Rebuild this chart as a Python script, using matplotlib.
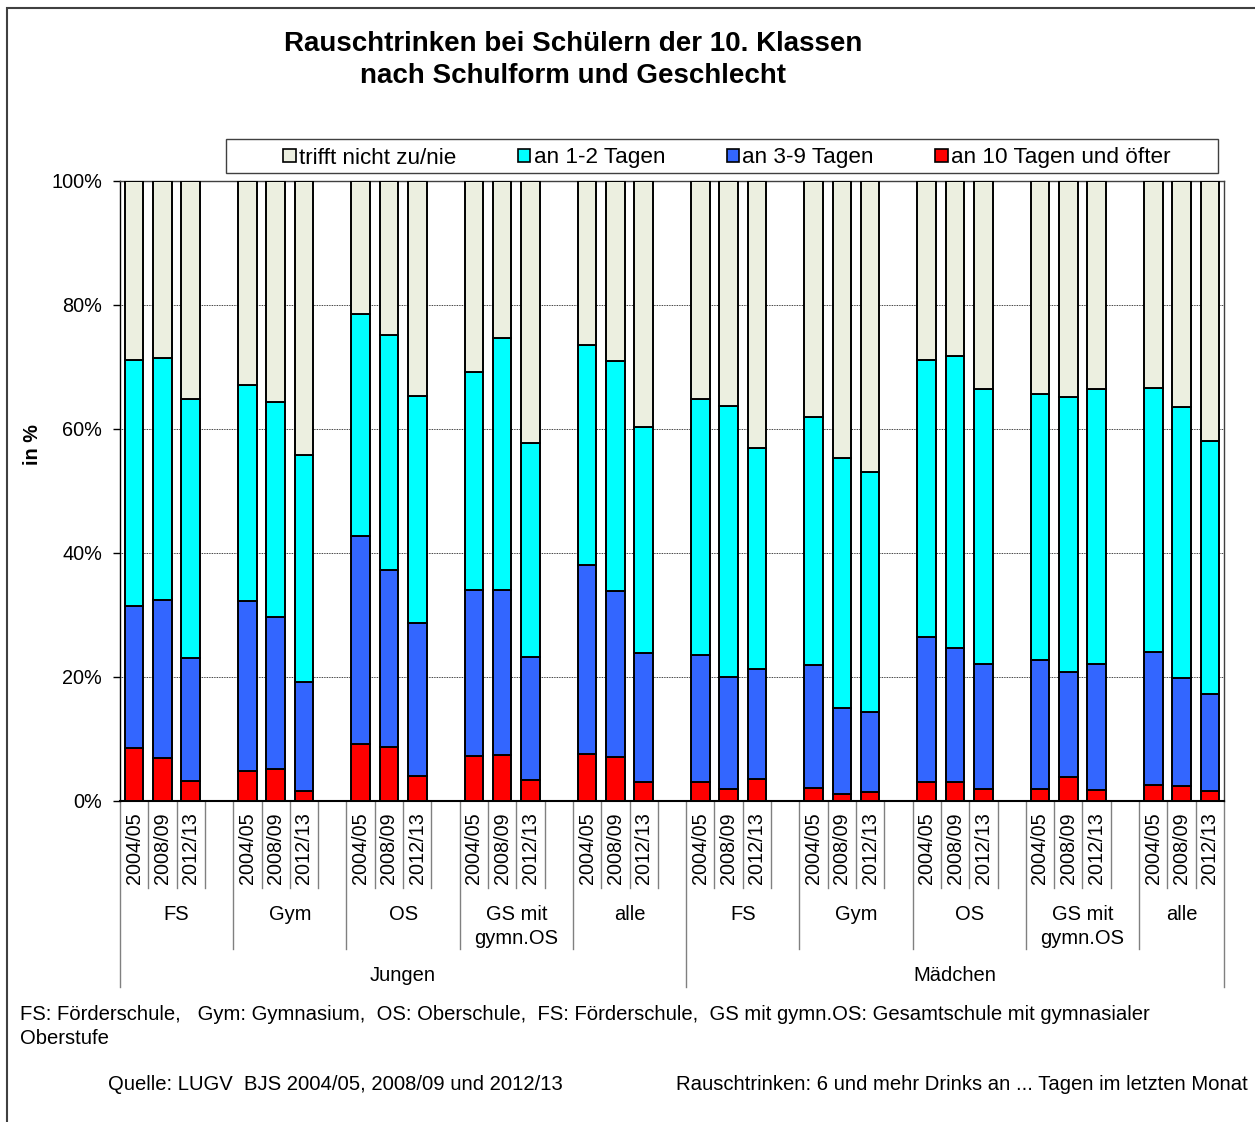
import matplotlib.pyplot as plt
from matplotlib.patches import Rectangle
from matplotlib.ticker import FuncFormatter
import numpy as np

plt.rcParams['font.family'] = ['Liberation Sans', 'DejaVu Sans']

genders = ['Jungen', 'Mädchen']
schools = ['FS', 'Gym', 'OS', 'GS mit\ngymn.OS', 'alle']
years = ['2004/05', '2008/09', '2012/13']

series_names = ['trifft nicht zu/nie', 'an 1-2 Tagen', 'an 3-9 Tagen', 'an 10 Tagen und öfter']
series_colors = ['#ECEFE0', '#00FFFF', '#3366FF', '#FF0000']

# values in %, order: Jungen FS, Gym, OS, GS, alle, then Mädchen the same; 3 years each
days_10plus = [8.6, 6.9, 3.2, 4.8, 5.1, 1.6, 9.2, 8.7, 4.1, 7.3, 7.4, 3.4, 7.6, 7.1, 3.0,
               3.0, 1.9, 3.6, 2.1, 1.2, 1.4, 3.0, 3.1, 1.9, 2.0, 3.8, 1.8, 2.6, 2.4, 1.6]
days_3_9 = [22.9, 25.6, 19.9, 27.4, 24.5, 17.6, 33.6, 28.5, 24.6, 26.8, 26.7, 19.8, 30.4, 26.7, 20.9,
            20.5, 18.1, 17.7, 19.9, 13.8, 13.0, 23.5, 21.6, 20.2, 20.7, 17.0, 20.3, 21.5, 17.4, 15.7]
days_1_2 = [39.7, 39.0, 41.7, 34.9, 34.8, 36.6, 35.8, 37.9, 36.6, 35.1, 40.5, 34.5, 35.5, 37.1, 36.5,
            41.3, 43.7, 35.7, 40.0, 40.3, 38.7, 44.7, 47.1, 44.3, 42.9, 44.4, 44.3, 42.5, 43.8, 40.8]
never = [28.8, 28.5, 35.2, 32.9, 35.6, 44.2, 21.4, 24.9, 34.7, 30.8, 25.4, 42.3, 26.5, 29.1, 39.6,
         35.2, 36.3, 43.0, 38.0, 44.7, 46.9, 28.8, 28.2, 33.6, 34.4, 34.8, 33.6, 33.4, 36.4, 41.9]

n_groups = len(genders) * len(schools)
slots_per_group = len(years) + 1  # one empty slot between groups
x = np.array([g * slots_per_group + j for g in range(n_groups) for j in range(len(years))])
n_slots = n_groups * slots_per_group - 1

fig = plt.figure(figsize=(12.55, 11.22), dpi=100)
ax = fig.add_axes([120 / 1255, 1 - 801 / 1122, 1104 / 1255, 620 / 1122])

stack = [days_10plus, days_3_9, days_1_2, never]
colors_bottom_up = series_colors[::-1]
bottom = np.zeros(len(x))
for vals, col in zip(stack, colors_bottom_up):
    vals = np.array(vals)
    ax.bar(x, vals, bottom=bottom, width=0.66, color=col, edgecolor='black', linewidth=1.4, zorder=3)
    bottom += vals

ax.set_xlim(-0.5, n_slots - 0.5)
ax.set_ylim(0, 100)
ax.set_yticks(np.arange(0, 101, 20))
ax.yaxis.set_major_formatter(FuncFormatter(lambda v, p: f'{int(v)}%'))
ax.tick_params(axis='y', labelsize=14.3, direction='out', length=5, width=1, pad=8)
ax.set_xticks([])
for yv in [20, 40, 60, 80]:
    ax.axhline(yv, color='black', linewidth=0.6, linestyle=(0, (1, 1)), zorder=1)
for s in ax.spines.values():
    s.set_color('#404040')
    s.set_linewidth(1)
ax.spines['left'].set_color('black')
ax.spines['bottom'].set_color('black')
ax.spines['bottom'].set_linewidth(1.5)

fig.text(33 / 1255, 1 - 445 / 1122, 'in %', rotation=90, ha='center', va='center',
         fontsize=14.3, fontweight='bold')

# category axis: year labels, school labels, gender labels with separators
sep_kw = dict(color='#808080', linewidth=1, clip_on=False, transform=ax.get_xaxis_transform())
for k in range(n_slots + 1):
    xb = k - 0.5
    if k % (len(schools) * slots_per_group) == 0 or k == n_slots:
        depth = -0.300
    elif k % slots_per_group == 0:
        depth = -0.239
    else:
        depth = -0.140
    ax.plot([xb, xb], [0, depth], **sep_kw)

for xi, i in zip(x, range(len(x))):
    ax.text(xi, -0.018, years[i % len(years)], rotation=90, ha='center', va='top',
            fontsize=14.3, transform=ax.get_xaxis_transform())

for g in range(n_groups):
    start = g * slots_per_group - 0.5
    end = min(start + slots_per_group, n_slots - 0.5)
    ax.text((start + end) / 2, -0.168, schools[g % len(schools)], ha='center', va='top',
            fontsize=14.5, linespacing=1.3, transform=ax.get_xaxis_transform())

per_gender = len(schools) * slots_per_group
for gi, name in enumerate(genders):
    start = gi * per_gender - 0.5
    end = min(start + per_gender, n_slots - 0.5)
    ax.text((start + end) / 2, -0.282, name, ha='center', va='center',
            fontsize=14.5, transform=ax.get_xaxis_transform())

# legend
fig.patches.append(Rectangle((226 / 1255, 1 - 173 / 1122), 992 / 1255, 34 / 1122,
                             transform=fig.transFigure, facecolor='white', edgecolor='#404040',
                             linewidth=1))
handles = [Rectangle((0, 0), 1, 1, facecolor=c, edgecolor='black', linewidth=1.2) for c in series_colors]
fig.legend(handles, series_names, loc='center', bbox_to_anchor=(727 / 1255, 1 - 158 / 1122),
           ncol=4, frameon=False, fontsize=16.2, handlelength=0.55, handleheight=0.55,
           handletextpad=0.15, columnspacing=2.73)

# title
fig.text(573 / 1255, 1 - 44 / 1122, 'Rauschtrinken bei Schülern der 10. Klassen',
         ha='center', va='center', fontsize=20, fontweight='bold')
fig.text(573 / 1255, 1 - 76 / 1122, 'nach Schulform und Geschlecht',
         ha='center', va='center', fontsize=20, fontweight='bold')

# notes
fig.text(20 / 1255, 1 - 1014 / 1122,
         'FS: Förderschule,   Gym: Gymnasium,  OS: Oberschule,  FS: Förderschule,  '
         'GS mit gymn.OS: Gesamtschule mit gymnasialer',
         ha='left', va='center', fontsize=14.55)
fig.text(20 / 1255, 1 - 1038 / 1122, 'Oberstufe', ha='left', va='center', fontsize=14.55)
fig.text(108 / 1255, 1 - 1084 / 1122, 'Quelle: LUGV  BJS 2004/05, 2008/09 und 2012/13',
         ha='left', va='center', fontsize=14.55)
fig.text(1248 / 1255, 1 - 1084 / 1122, 'Rauschtrinken: 6 und mehr Drinks an ... Tagen im letzten Monat',
         ha='right', va='center', fontsize=14.55)

# outer chart border (only top and left edges visible)
fig.patches.append(Rectangle((7 / 1255, -0.05), 1.1, 1 - 8 / 1122 + 0.05, transform=fig.transFigure,
                             facecolor='none', edgecolor='#404040', linewidth=1.5))

fig.savefig('out.png', dpi=100)
